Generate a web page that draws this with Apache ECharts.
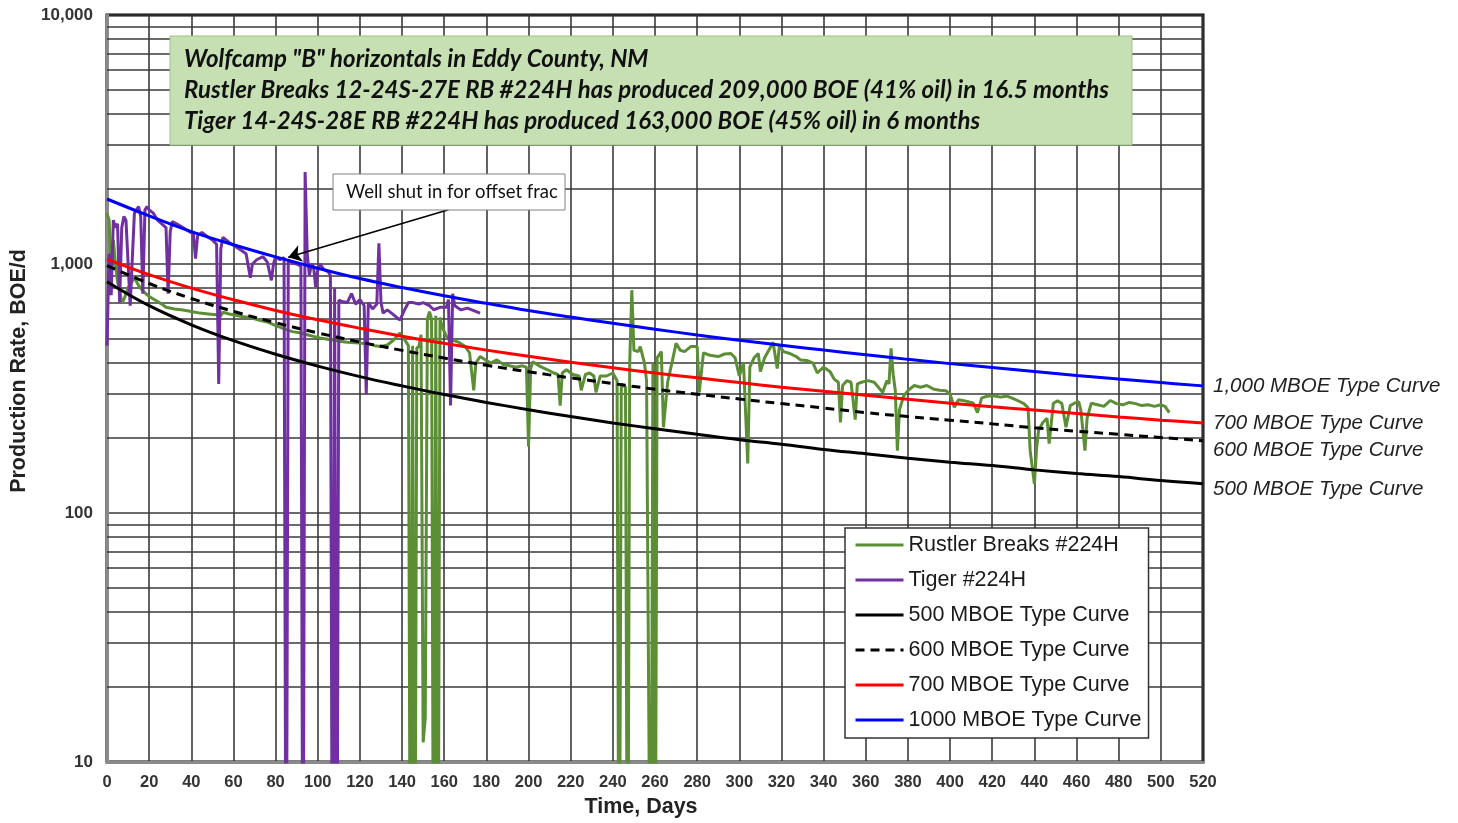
<!DOCTYPE html>
<html>
<head>
<meta charset="utf-8">
<script src="https://cdn.jsdelivr.net/npm/echarts@6/dist/echarts.min.js"></script>
<style>
html,body{margin:0;padding:0;background:#fff;}
#chart{width:1458px;height:823px;}
</style>
</head>
<body>
<div id="chart"></div>
<script>
// ---------- DATA ----------
const typeDays = [0,20,40,60,80,100,120,140,160,180,200,220,240,260,280,300,320,340,360,380,400,420,440,460,480,500,520];
const tc500  = [849,680,570,492,434,389,353,324,299,278,260,244,230,218,207,197,189,180,173,166,160,155,149,144,140,135,131];
const tc600  = [985,835,727,645,581,529,486,450,419,392,369,349,331,314,300,287,275,264,253,244,236,228,220,213,207,201,195];
const tc700  = [1047,906,800,718,651,597,552,513,480,451,426,403,383,365,349,334,320,308,297,286,276,267,259,251,243,236,230];
const tc1000 = [1824,1560,1350,1195,1068,962,874,804,745,695,650,612,578,547,519,494,472,451,432,414,398,384,370,357,345,334,324];

const tigerDays  = [0,1,2,3,4,5,6,7,8,9,11,13,15,16,17,18,19,20,22,24,26,28,29,30,31,33,36,39,41,42,43,45,48,50,52,53,54,55,58,60,62,64,66,68,69,71,74,76,78,79,80,82,84,85,86,88,90,92,93,94,95,96,97,98,99,100,101,103,105,106,107,108,109,110,112,114,116,118,120,122,123,124,126,128,129,130,131,133,136,139,141,143,145,148,150,153,155,158,161,162,163,164,165,168,171,174,177];
const tigerRates = [470,1100,750,1500,1400,1450,700,1400,1550,1500,680,1600,1700,1550,760,1650,1700,1650,1600,1500,1450,1400,760,1350,1480,1450,1400,1350,1320,1050,1300,1340,1280,1250,1200,330,1150,1280,1220,1190,1160,1130,1100,880,1000,1040,1070,1020,860,1000,1070,1040,1060,1,1040,1010,1000,980,1,2340,1100,900,1000,976,810,950,1000,950,930,900,1,800,1,715,705,700,760,690,720,680,300,700,660,690,1210,700,635,654,625,595,650,700,700,690,700,680,655,670,670,720,270,760,680,654,665,650,635];

const rbDays  = [0,1,2,3,4,5,6,7,8,10,13,15,17,20,23,26,28,32,36,40,44,48,52,54,55,58,60,64,68,72,76,80,82,85,88,92,95,98,101,104,107,110,114,118,121,124,127,130,133,136,139,141,143,144,145,146,147,148,149,150,151,152,153,154,155,156,157,158,159,161,164,167,170,172,174,175,177,180,182,185,188,191,194,197,199,200,201,202,205,209,212,214,215,216,218,221,224,225,227,229,231,232,234,237,240,242,243,244,246,247,248,249,250,252,253,255,256,258,259,260,261,263,264,266,268,270,272,274,277,280,281,283,286,290,293,296,298,300,302,304,305,307,309,310,312,314,316,318,319,321,324,327,329,332,335,337,340,343,345,347,348,349,351,353,355,356,358,361,364,366,368,370,371,372,373,374,375,376,378,380,383,386,389,392,395,398,400,402,404,407,410,411,413,415,418,421,424,427,430,432,435,437,438,440,441,442,444,446,447,449,451,453,455,457,459,461,462,464,465,467,470,473,476,479,482,485,488,491,494,497,500,502,504];
const rbRates = [1600,1500,900,1250,1000,850,780,700,720,800,880,820,780,740,715,690,670,660,654,645,635,630,625,620,640,630,625,615,610,595,585,565,558,545,535,528,520,512,505,500,495,490,485,483,480,478,470,466,473,495,528,500,470,1,470,1,460,466,520,12,15,600,644,600,1,620,1,610,560,512,495,484,466,440,311,400,425,410,400,412,395,390,385,390,385,185,380,405,390,376,365,360,270,365,376,360,355,311,360,365,355,305,355,355,365,340,1,330,320,1,400,785,450,445,466,400,340,1,400,1,420,445,221,335,400,480,450,445,466,466,305,440,430,425,435,437,420,355,400,158,385,420,437,370,420,450,485,380,470,445,437,425,412,410,400,365,385,370,345,335,231,325,340,335,237,330,335,340,335,320,305,340,330,458,360,311,178,260,295,310,325,320,325,315,311,310,300,266,285,282,278,276,253,290,295,295,292,295,288,283,275,265,178,131,180,215,231,240,190,276,282,276,221,270,276,280,260,178,240,276,272,268,283,275,272,278,275,270,272,268,272,268,253];

const seriesNames = ['Rustler Breaks #224H','Tiger #224H','500 MBOE Type Curve','600 MBOE Type Curve','700 MBOE Type Curve','1000 MBOE Type Curve'];
const curveEndLabels = ['500 MBOE Type Curve','600 MBOE Type Curve','700 MBOE Type Curve','1,000 MBOE Type Curve'];
const gridValues = [20,30,40,50,60,70,80,90,200,300,400,500,600,700,800,900,2000,3000,4000,5000,6000,7000,8000,9000];
const titleLines = [
  'Wolfcamp "B" horizontals in Eddy County, NM',
  'Rustler Breaks 12-24S-27E RB #224H has produced 209,000 BOE (41% oil) in 16.5 months',
  'Tiger 14-24S-28E RB #224H has produced 163,000 BOE (45% oil) in 6 months'
];
const calloutText = 'Well shut in for offset frac';
const arrowFrom = [162, 1650];
const arrowTo = [86, 1065];

// ---------- CHART ----------
const zip = (xs, ys) => xs.map((x, i) => [x, ys[i]]);
const FONT = '"Liberation Sans", Arial, sans-serif';
const chart = echarts.init(document.getElementById('chart'), null, {renderer: 'canvas'});

const gridColor = '#3a3a3a';
const curveLabel = (text, dy) => ({
  show: true, formatter: text, distance: 10, offset: [0, dy],
  fontFamily: FONT, fontSize: 20.5, fontStyle: 'italic', color: '#222'
});

const option = {
  animation: false,
  backgroundColor: '#fff',
  grid: {left: 107, top: 15, width: 1096, height: 747, show: true, borderColor: '#000', borderWidth: 3, backgroundColor: 'transparent'},
  xAxis: {
    type: 'value', min: 0, max: 520, interval: 20,
    name: 'Time, Days', nameLocation: 'middle', nameGap: 34,
    nameTextStyle: {fontFamily: FONT, fontSize: 21.5, fontWeight: 'bold', color: '#222', padding: [0, 28, 0, 0]},
    axisLine: {show: true, onZero: false, lineStyle: {color: '#8a8a8a', width: 3}},
    axisTick: {show: false},
    axisLabel: {fontFamily: FONT, fontSize: 16.5, fontWeight: 'bold', color: '#333', margin: 12},
    splitLine: {show: true, lineStyle: {color: gridColor, width: 1.6}}
  },
  yAxis: {
    type: 'log', logBase: 10, min: 10, max: 10000,
    name: 'Production Rate, BOE/d', nameLocation: 'middle', nameGap: 77,
    nameTextStyle: {fontFamily: FONT, fontSize: 21.5, fontWeight: 'bold', color: '#222', padding: [0, 0, 0, 35]},
    axisLine: {show: true, lineStyle: {color: '#8a8a8a', width: 3}},
    axisTick: {show: false},
    axisLabel: {fontFamily: FONT, fontSize: 17, fontWeight: 'bold', color: '#333', margin: 14,
      formatter: v => Number(v).toLocaleString('en-US')},
    splitLine: {show: true, lineStyle: {color: gridColor, width: 1.6}}
  },
  legend: {
    data: seriesNames, orient: 'vertical', left: 845, top: 528,
    itemWidth: 48, itemHeight: 18, itemGap: 13,
    padding: [6, 7, 7, 9],
    backgroundColor: '#fff', borderColor: '#333', borderWidth: 1.5,
    selectedMode: false, z: 50,
    itemStyle: {opacity: 0},
    lineStyle: {width: 3},
    textStyle: {fontFamily: FONT, fontSize: 21.5, color: '#1a1a1a'}
  },
  series: [
    {
      name: '_grid', type: 'line', data: [], z: 1, silent: true,
      markLine: {silent: true, z: 1, symbol: ['none','none'], animation: false, label: {show: false},
        lineStyle: {color: gridColor, width: 1.6, type: 'solid'},
        data: gridValues.map(v => ({yAxis: v}))}
    },
    {
      name: seriesNames[0], type: 'line', data: zip(rbDays, rbRates), showSymbol: false, symbol: 'none', z: 3,
      lineStyle: {color: '#5b8e35', width: 3}, itemStyle: {color: '#5b8e35'}
    },
    {
      name: seriesNames[1], type: 'line', data: zip(tigerDays, tigerRates), showSymbol: false, symbol: 'none', z: 4,
      lineStyle: {color: '#7030a0', width: 3}, itemStyle: {color: '#7030a0'},
      markLine: {silent: true, z: 20, symbol: ['none','arrow'], symbolSize: 13, animation: false, label: {show: false},
        lineStyle: {color: '#000', width: 1.6, type: 'solid'},
        data: [[{coord: arrowFrom}, {coord: arrowTo}]]}
    },
    {
      name: seriesNames[2], type: 'line', data: zip(typeDays, tc500), showSymbol: false, symbol: 'none', smooth: 0.4, z: 5,
      lineStyle: {color: '#000', width: 3}, itemStyle: {color: '#000'}, endLabel: curveLabel(curveEndLabels[0], 5)
    },
    {
      name: seriesNames[3], type: 'line', data: zip(typeDays, tc600), showSymbol: false, symbol: 'none', smooth: 0.4, z: 5,
      lineStyle: {color: '#000', width: 3, type: [9, 6]}, itemStyle: {color: '#000'}, endLabel: curveLabel(curveEndLabels[1], 10)
    },
    {
      name: seriesNames[4], type: 'line', data: zip(typeDays, tc700), showSymbol: false, symbol: 'none', smooth: 0.4, z: 5,
      lineStyle: {color: '#ff0000', width: 3}, itemStyle: {color: '#ff0000'}, endLabel: curveLabel(curveEndLabels[2], 0)
    },
    {
      name: seriesNames[5], type: 'line', data: zip(typeDays, tc1000), showSymbol: false, symbol: 'none', smooth: 0.4, z: 5,
      lineStyle: {color: '#0000ff', width: 3}, itemStyle: {color: '#0000ff'}, endLabel: curveLabel(curveEndLabels[3], 0)
    }
  ],
  graphic: [
    {type: 'rect', z: 100, shape: {x: 170, y: 36, width: 962, height: 109},
      style: {fill: '#c6e0b4', stroke: '#9cc487', lineWidth: 1}},
    ...titleLines.map((t, i) => ({
      type: 'text', z: 101, x: 184, y: 59 + i * 31,
      style: {text: t, fontFamily: 'Lato, "Open Sans", sans-serif', fontSize: 24, fontWeight: 'bold', fontStyle: 'italic',
        fill: '#111', textVerticalAlign: 'middle', textAlign: 'left'}
    })),
    {type: 'rect', z: 100, shape: {x: 333, y: 174, width: 232, height: 36},
      style: {fill: '#fff', stroke: '#808080', lineWidth: 1}},
    {type: 'text', z: 101, x: 452, y: 192,
      style: {text: calloutText, fontFamily: 'Lato, "Open Sans", sans-serif', fontSize: 18.5, fill: '#111',
        textAlign: 'center', textVerticalAlign: 'middle'}}
  ]
};
chart.setOption(option);
</script>
</body>
</html>
